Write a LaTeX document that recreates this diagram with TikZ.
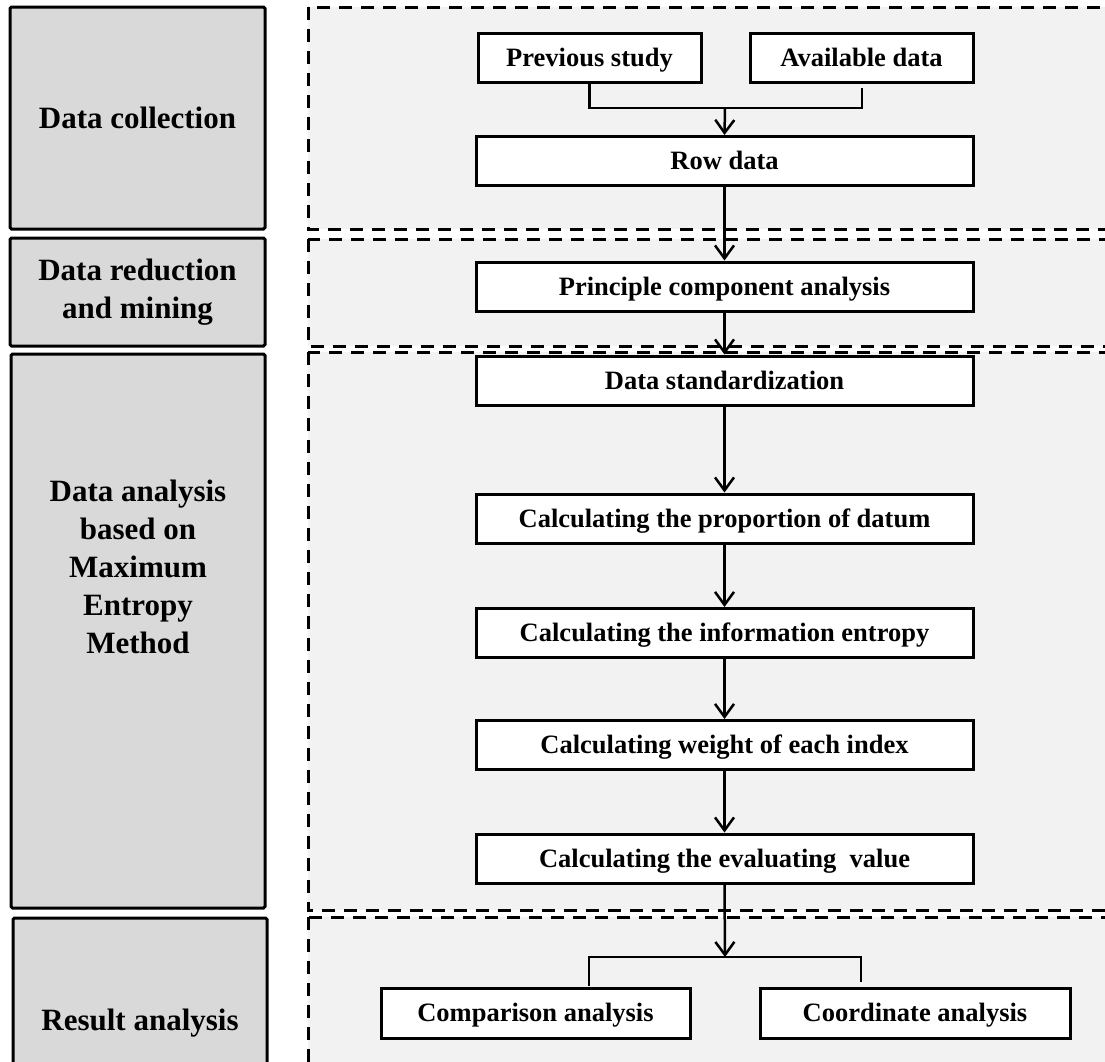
\documentclass[tikz,border=0pt]{standalone}
\usepackage{fontspec}
\setmainfont{Liberation Serif}
\usetikzlibrary{arrows.meta}
\definecolor{lgray}{HTML}{D9D9D9}
\definecolor{dgray}{HTML}{F2F2F2}
\tikzset{
  stagebox/.style={draw=black, fill=lgray, line width=3pt, rounded corners=1.5pt, inner sep=0pt},
  stagelabel/.style={align=center, font=\bfseries\fontsize{31}{38}\selectfont, inner sep=0pt},
  zone/.style={draw=black, fill=dgray, line width=3pt, dash pattern=on 13pt off 9pt},
  stepbox/.style={draw=black, fill=white, line width=3pt, inner sep=0pt, minimum height=49pt,
    text height=17.5pt, text depth=0pt,
    font=\bfseries\fontsize{26.5}{31}\selectfont},
  wide/.style={stepbox, minimum width=497pt},
  flow/.style={line width=2.5pt, -{Straight Barb[length=13pt,width=19pt,line width=2.5pt]}},
  link/.style={line width=2.5pt}
}
\begin{document}
\begin{tikzpicture}[x=1pt,y=-1pt]
\useasboundingbox (0,0) rectangle (1105,1061);
\fill[white] (0,0) rectangle (1105,1061);
\clip (0,0) rectangle (1105,1061);

% left stage boxes
\node[stagebox, minimum width=255pt, minimum height=222pt] (s1) at (137.5,118) {};
\node[stagebox, minimum width=255pt, minimum height=108pt] (s2) at (137.5,292) {};
\node[stagebox, minimum width=254pt, minimum height=554pt] (s3) at (138,631) {};
\node[stagebox, minimum width=254pt, minimum height=170pt] (s4) at (140,1003) {};
\node[stagelabel] (l1) at (137.5,118) {Data collection};
\node[stagelabel] (l2) at (137.5,292) {Data reduction\\and mining};
\node[stagelabel] (l3) at (138,567) {Data analysis\\based on\\Maximum\\Entropy\\Method};
\node[stagelabel] (l4) at (140,1023) {Result analysis};

% dashed zones
\draw[zone] (308,7) rectangle (1120,229);
\draw[zone] (308,239) rectangle (1120,346);
\draw[zone] (308,352) rectangle (1120,910);
\draw[zone] (308,917) rectangle (1120,1080);

% process boxes
\node[stepbox, minimum width=223pt] (prev) at (589.5,57.5) {Previous study};
\node[stepbox, minimum width=223pt] (avail) at (861.5,57.5) {Available data};
\node[wide] (row) at (724.5,161) {Row data};
\node[wide] (pca) at (724.5,286.5) {Principle component analysis};
\node[wide] (std) at (724.5,380.5) {Data standardization};
\node[wide] (prop) at (724.5,518.5) {Calculating the proportion of datum};
\node[wide] (ent) at (724.5,633) {Calculating the information entropy};
\node[wide] (wgt) at (724.5,745) {Calculating weight of each index};
\node[wide] (eval) at (724.5,858.5) {Calculating the evaluating\ \ value};
\node[stepbox, minimum width=309pt, minimum height=50pt] (cmp) at (535.5,1013) {Comparison analysis};
\node[stepbox, minimum width=310pt, minimum height=50pt] (crd) at (915,1013) {Coordinate analysis};

% merge at top
\coordinate (mj) at (725,108);
\coordinate (avb) at (862,88);
\draw[link] (prev.south) |- (mj) -| (avb);
\draw[flow] (mj) -- (row.north);

% main chain
\draw[flow] (row.south) -- (pca.north);
\draw[flow] (pca.south) -- (std.north);
\draw[flow] (std.south) -- (prop.north);
\draw[flow] (prop.south) -- (ent.north);
\draw[flow] (ent.south) -- (wgt.north);
\draw[flow] (wgt.south) -- (eval.north);

% split at bottom
\coordinate (sj) at (725,957);
\coordinate (cmpt) at (589,986);
\coordinate (crdt) at (861,982);
\draw[flow] (eval.south) -- (sj);
\draw[link] (cmpt) |- (sj) -| (crdt);
\end{tikzpicture}
\end{document}
